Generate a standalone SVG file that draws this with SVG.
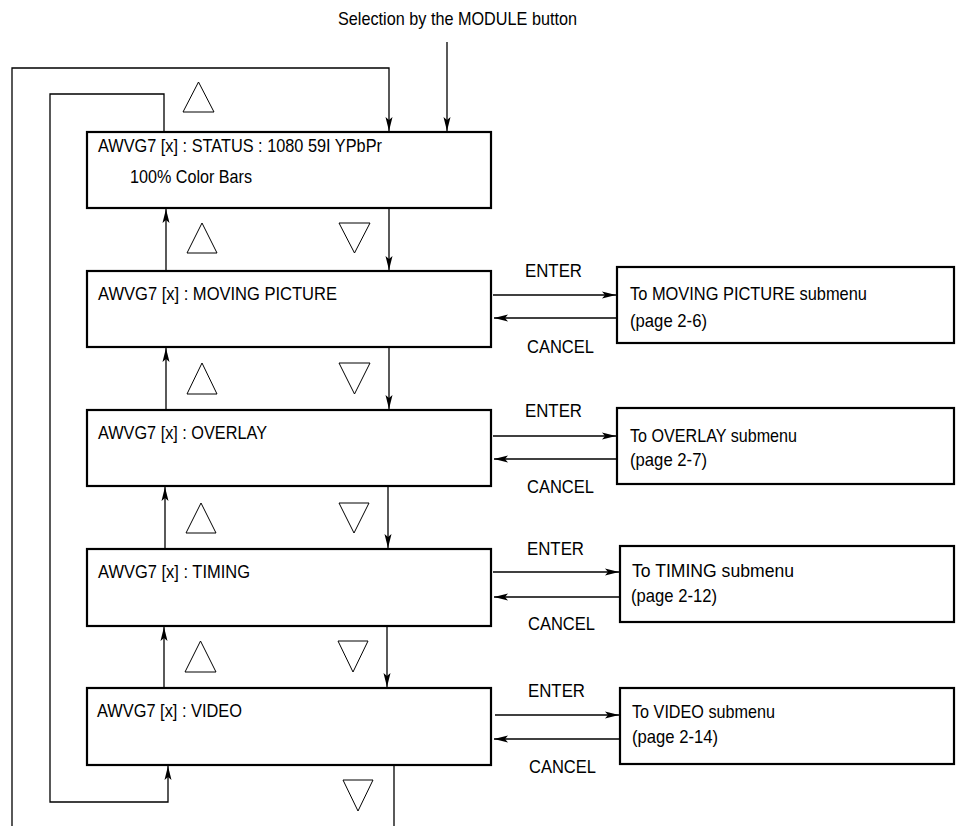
<svg xmlns="http://www.w3.org/2000/svg" width="956" height="826" viewBox="0 0 956 826">
<style>
text{font-family:"Liberation Sans",Arial,sans-serif;font-size:19px;fill:#000}
.box{fill:#fff;stroke:#000;stroke-width:2.2}
.ln{fill:none;stroke:#000;stroke-width:1.3}
.arr{marker-end:url(#ah)}
.tri{fill:none;stroke:#000;stroke-width:1}
</style>
<defs>
<marker id="ah" markerUnits="userSpaceOnUse" markerWidth="16" markerHeight="10" refX="14" refY="4" orient="auto">
<path d="M0,0.5 L14,4 L0,7.5 L3,4 Z" fill="#000"/>
</marker>
</defs>
<rect width="956" height="826" fill="#fff"/>
<text x="338" y="25" textLength="239" lengthAdjust="spacingAndGlyphs">Selection by the MODULE button</text>
<g id="status">
<rect class="box" x="87" y="132" width="404" height="76"/>
<text x="98" y="152" textLength="284" lengthAdjust="spacingAndGlyphs">AWVG7 [x] : STATUS : 1080 59I YPbPr</text>
<text x="130" y="183" textLength="122" lengthAdjust="spacingAndGlyphs">100% Color Bars</text>
</g>
<g id="moving">
<rect class="box" x="87" y="271" width="404" height="76"/>
<text x="98" y="300" textLength="239" lengthAdjust="spacingAndGlyphs">AWVG7 [x] : MOVING PICTURE</text>
</g>
<g id="overlay">
<rect class="box" x="87" y="410" width="404" height="76"/>
<text x="98" y="439" textLength="169" lengthAdjust="spacingAndGlyphs">AWVG7 [x] : OVERLAY</text>
</g>
<g id="timing">
<rect class="box" x="87" y="549" width="404" height="77"/>
<text x="98" y="578" textLength="152" lengthAdjust="spacingAndGlyphs">AWVG7 [x] : TIMING</text>
</g>
<g id="video">
<rect class="box" x="87" y="688" width="404" height="77"/>
<text x="97" y="717" textLength="145" lengthAdjust="spacingAndGlyphs">AWVG7 [x] : VIDEO</text>
</g>
<g id="sub-moving">
<rect class="box" x="617" y="267" width="337" height="76"/>
<text x="630" y="300" textLength="237" lengthAdjust="spacingAndGlyphs">To MOVING PICTURE submenu</text>
<text x="630" y="327" textLength="77" lengthAdjust="spacingAndGlyphs">(page 2-6)</text>
</g>
<g id="sub-overlay">
<rect class="box" x="617" y="408" width="337" height="76"/>
<text x="630" y="442" textLength="167" lengthAdjust="spacingAndGlyphs">To OVERLAY submenu</text>
<text x="630" y="466" textLength="77" lengthAdjust="spacingAndGlyphs">(page 2-7)</text>
</g>
<g id="sub-timing">
<rect class="box" x="620" y="546" width="334" height="76"/>
<text x="632" y="577" textLength="162" lengthAdjust="spacingAndGlyphs">To TIMING submenu</text>
<text x="631" y="602" textLength="86" lengthAdjust="spacingAndGlyphs">(page 2-12)</text>
</g>
<g id="sub-video">
<rect class="box" x="620" y="688" width="334" height="76"/>
<text x="632" y="718" textLength="143" lengthAdjust="spacingAndGlyphs">To VIDEO submenu</text>
<text x="632" y="743" textLength="86" lengthAdjust="spacingAndGlyphs">(page 2-14)</text>
</g>
<g id="connectors">
<path class="ln arr" d="M447,42 V131"/>
<path class="ln arr" d="M12,826 V68 H389 V131"/>
<path class="ln arr" d="M164,132 V94 H50 V802 H168 V766"/>
<path class="ln" d="M394,765 V826"/>
<path class="ln arr" d="M389,208 V270"/>
<path class="ln arr" d="M389,347 V409"/>
<path class="ln arr" d="M388,486 V548"/>
<path class="ln arr" d="M387,626 V687"/>
<path class="ln arr" d="M166,271 V209"/>
<path class="ln arr" d="M166,410 V348"/>
<path class="ln arr" d="M165,549 V487"/>
<path class="ln arr" d="M164,688 V627"/>
<path class="ln arr" d="M493,295 H616"/>
<path class="ln arr" d="M617,318 H494"/>
<path class="ln arr" d="M493,436 H616"/>
<path class="ln arr" d="M617,459 H494"/>
<path class="ln arr" d="M493,572 H619"/>
<path class="ln arr" d="M620,597 H494"/>
<path class="ln arr" d="M495,715 H619"/>
<path class="ln arr" d="M620,739 H494"/>
</g>
<g id="labels">
<text x="525" y="277" textLength="57" lengthAdjust="spacingAndGlyphs">ENTER</text>
<text x="527" y="353" textLength="67" lengthAdjust="spacingAndGlyphs">CANCEL</text>
<text x="525" y="417" textLength="57" lengthAdjust="spacingAndGlyphs">ENTER</text>
<text x="527" y="493" textLength="67" lengthAdjust="spacingAndGlyphs">CANCEL</text>
<text x="527" y="555" textLength="57" lengthAdjust="spacingAndGlyphs">ENTER</text>
<text x="528" y="630" textLength="67" lengthAdjust="spacingAndGlyphs">CANCEL</text>
<text x="528" y="697" textLength="57" lengthAdjust="spacingAndGlyphs">ENTER</text>
<text x="529" y="773" textLength="67" lengthAdjust="spacingAndGlyphs">CANCEL</text>
</g>
<g id="triangles">
<polygon class="tri" points="183,112 198.5,82 214,112"/>
<polygon class="tri" points="187,253 202,223 217,253"/>
<polygon class="tri" points="339,223 370,223 354.5,253"/>
<polygon class="tri" points="187,394 202,363 217,394"/>
<polygon class="tri" points="339,363 370,363 354.5,394"/>
<polygon class="tri" points="186,533 201,503 216,533"/>
<polygon class="tri" points="339,503 369,503 354,533"/>
<polygon class="tri" points="185,672 200.5,641 216,672"/>
<polygon class="tri" points="338,641 368,641 353,672"/>
<polygon class="tri" points="343,780 373,780 358,811"/>
</g>
</svg>
